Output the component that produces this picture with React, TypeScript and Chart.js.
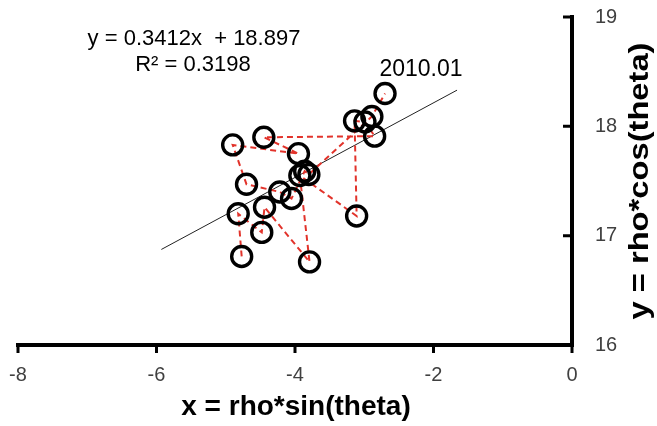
import React, { useEffect, useRef } from "react";
import { Chart, registerables } from "chart.js";

Chart.register(...registerables);

// Monthly points in chronological order (last one is 2010.01)
const xValues = [-4.77, -4.82, -4.48, -4.44, -3.79, -3.93, -3.11, -3.14, -2.99, -2.85, -4.45, -3.95, -4.9, -4.7, -4.22, -4.05, -3.86, -3.8, -2.89, -2.7];
const yValues = [16.81, 17.2, 17.03, 17.26, 16.76, 17.55, 17.18, 18.05, 18.04, 17.91, 17.9, 17.75, 17.83, 17.47, 17.4, 17.34, 17.59, 17.56, 18.09, 18.3];

// Linear trend line endpoints
const trendX = [-5.93, -1.66];
const trendY = [16.874, 18.331];

const xTicks = [-8, -6, -4, -2, 0];
const yTicks = [16, 17, 18, 19];

const equationText = "y = 0.3412x  + 18.897";
const r2Text = "R\u00B2 = 0.3198";
const lastLabel = "2010.01";
const xTitle = "x = rho*sin(theta)";
const yTitle = "y = rho*cos(theta)";

const FONT = "'Liberation Sans', Arial, sans-serif";

const decorPlugin = {
  id: "decor",
  afterDraw(chart: any) {
    const ctx = chart.ctx;
    const xs = chart.scales.x;
    const ys = chart.scales.y;
    const area = chart.chartArea;
    ctx.save();
    // axes
    ctx.strokeStyle = "#000";
    ctx.lineWidth = 4;
    ctx.lineCap = "square";
    ctx.beginPath();
    ctx.moveTo(area.left, area.bottom);
    ctx.lineTo(area.right, area.bottom);
    ctx.moveTo(area.right, area.bottom);
    ctx.lineTo(area.right, area.top);
    ctx.stroke();
    // ticks
    ctx.lineWidth = 3;
    ctx.lineCap = "butt";
    ctx.beginPath();
    xTicks.forEach((v) => {
      const px = xs.getPixelForValue(v);
      ctx.moveTo(px, area.bottom);
      ctx.lineTo(px, area.bottom + 8);
    });
    yTicks.forEach((v) => {
      const py = ys.getPixelForValue(v);
      ctx.moveTo(area.right, py);
      ctx.lineTo(area.right - 9, py);
    });
    ctx.stroke();

    ctx.fillStyle = "#000";
    // x title
    ctx.font = `bold 28px ${FONT}`;
    ctx.textAlign = "center";
    ctx.textBaseline = "alphabetic";
    ctx.fillText(xTitle, 296, 415);

    // y title (rotated, reading bottom to top)
    ctx.save();
    ctx.translate(648, 181);
    ctx.rotate(-Math.PI / 2);
    ctx.font = `bold 27px ${FONT}`;
    const w = ctx.measureText(yTitle).width;
    ctx.scale(277 / w, 1);
    ctx.fillText(yTitle, 0, 0);
    ctx.restore();

    // equation
    ctx.font = `22px ${FONT}`;
    ctx.textAlign = "center";
    ctx.fillText(equationText, 194, 45);
    ctx.fillText(r2Text, 193, 71);

    // last point label
    const lx = xs.getPixelForValue(xValues[xValues.length - 1]);
    const ly = ys.getPixelForValue(yValues[yValues.length - 1]);
    ctx.font = `23px ${FONT}`;
    ctx.fillText(lastLabel, lx + 36, ly - 18);
    ctx.restore();
  },
};

const zeroPadding = (s: any) => {
  s.paddingLeft = 0;
  s.paddingRight = 0;
  s.paddingTop = 0;
  s.paddingBottom = 0;
};

export default function App() {
  const ref = useRef<HTMLCanvasElement>(null);
  useEffect(() => {
    const points = xValues.map((x, i) => ({ x, y: yValues[i] }));
    const trend = trendX.map((x, i) => ({ x, y: trendY[i] }));
    const chart = new Chart(ref.current as HTMLCanvasElement, {
      type: "scatter",
      data: {
        datasets: [
          {
            data: points,
            showLine: false,
            pointRadius: 10,
            pointBorderWidth: 3.4,
            pointBorderColor: "#000",
            pointBackgroundColor: "rgba(0,0,0,0)",
            pointHoverRadius: 10,
          },
          {
            data: points,
            showLine: true,
            borderColor: "#e2332b",
            borderWidth: 2,
            borderDash: [6, 4],
            pointRadius: 0,
            pointHoverRadius: 0,
            tension: 0,
          },
          {
            data: trend,
            showLine: true,
            borderColor: "#222",
            borderWidth: 1,
            pointRadius: 0,
            pointHoverRadius: 0,
          },
        ],
      } as any,
      options: {
        animation: false,
        responsive: false,
        events: [],
        layout: { padding: { left: 18, top: 17, right: 0, bottom: 0 } },
        plugins: { legend: { display: false }, tooltip: { enabled: false } },
        scales: {
          x: {
            type: "linear",
            position: "bottom",
            min: -8,
            max: 0,
            afterBuildTicks: (s: any) => {
              s.ticks = xTicks.map((v) => ({ value: v }));
            },
            afterFit: (s: any) => {
              s.height = 81;
              zeroPadding(s);
            },
            grid: { display: false, drawTicks: false },
            border: { display: false },
            ticks: {
              padding: 18,
              color: "#404040",
              font: { family: FONT, size: 20 },
              maxRotation: 0,
            },
          },
          y: {
            type: "linear",
            position: "right",
            min: 16,
            max: 19,
            afterBuildTicks: (s: any) => {
              s.ticks = yTicks.map((v) => ({ value: v }));
            },
            afterFit: (s: any) => {
              s.width = 85;
              zeroPadding(s);
            },
            grid: { display: false, drawTicks: false },
            border: { display: false },
            ticks: {
              padding: 23,
              color: "#404040",
              font: { family: FONT, size: 20 },
            },
          },
        },
      } as any,
      plugins: [decorPlugin],
    });
    return () => chart.destroy();
  }, []);
  return (
    <div style={{ position: "fixed", left: 0, top: 0, width: 657, height: 426, background: "#fff" }}>
      <canvas ref={ref} width={657} height={426} style={{ display: "block" }} />
    </div>
  );
}
